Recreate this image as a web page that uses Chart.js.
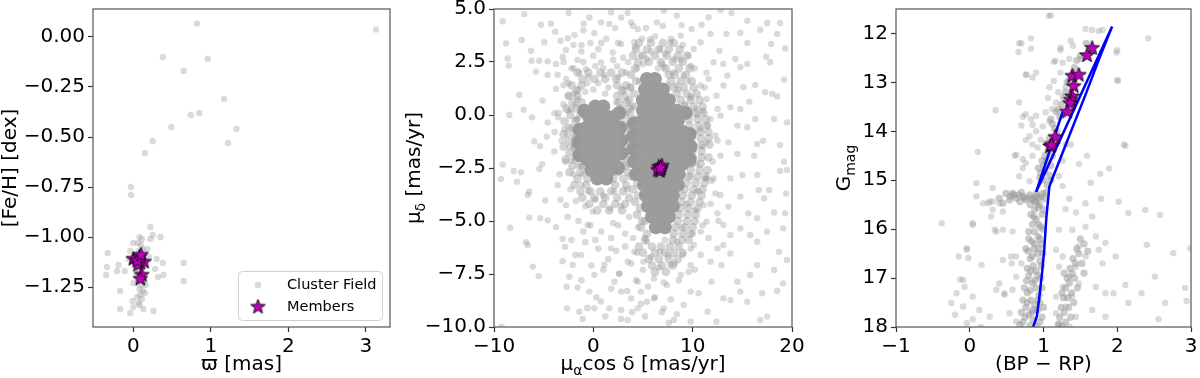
<!DOCTYPE html>
<html>
<head>
<meta charset="utf-8">
<script src="https://cdn.jsdelivr.net/npm/chart.js@4"></script>
<style>
  body { margin: 0; background: #fff; width: 1200px; height: 378px; overflow: hidden; position: relative; }
  canvas { position: absolute; top: 0; }
</style>
</head>
<body>
<canvas id="FehCanvas" width="420" height="378" style="left:0px"></canvas>
<canvas id="PmCanvas" width="420" height="378" style="left:400px"></canvas>
<canvas id="CmdCanvas" width="400" height="378" style="left:800px"></canvas>
<script>
// ---- panel 1: parallax vs [Fe/H] ----
const fehTicksX = [0, 1, 2, 3];
const fehTicksY = [0, -0.25, -0.5, -0.75, -1.0, -1.25];
const fehField = [
  [0.82,0.067],[0.38,-0.10],[0.96,-0.11],[0.65,-0.17],[1.17,-0.31],[0.74,-0.39],[0.85,-0.38],[0.49,-0.45],
  [1.33,-0.46],[1.22,-0.53],[0.25,-0.52],[0.15,-0.58],[-0.03,-0.75],[-0.03,-0.79],[3.13,0.037],[0.22,-0.95],
  [0.25,-0.99],[0.22,-1.01],[0.35,-1.00],[-0.33,-1.08],[-0.34,-1.15],[-0.35,-1.19],[-0.19,-1.14],[-0.21,-1.17],
  [-0.11,-1.17],[-0.17,-1.27],[-0.17,-1.36],[-0.04,-1.38],[0.0,-1.35],[0.13,-1.36],[0.26,-1.37],[0.15,-1.28],
  [0.16,-1.24],[0.28,-1.16],[0.32,-1.20],[0.39,-1.19],[0.38,-1.13],[0.30,-1.11],[0.65,-1.13],[0.65,-1.22],
  [0.0,-1.23],[-0.01,-1.32],[0.07,-1.33],[0.0,-1.03],[0.2,-1.10],[0.18,-1.06],[0.08,-1.00],[0.11,-1.01],
  [0.06,-1.03],[0.10,-1.04],[0.12,-1.06],[0.07,-1.07],[0.10,-1.09],[0.05,-1.12],[0.13,-1.15],[0.08,-1.17],
  [0.11,-1.20],[0.06,-1.22],[0.10,-1.24],[0.08,-1.26],[0.12,-1.27],[0.09,-1.29],[0.05,-1.30],[0.11,-1.31],
  [0.08,-1.34],[0.04,-1.18],[0.14,-1.22],[-0.06,-1.11],[-0.04,-1.07]
];
const fehMembers = [[0.00,-1.11],[0.08,-1.10],[0.09,-1.13],[0.14,-1.125],[0.06,-1.14],[0.11,-1.19],[0.09,-1.21],[0.05,-1.12],[0.10,-1.09]];

// ---- panel 2: proper motions ----
const pmTicksX = [-10, 0, 10, 20];
const pmTicksY = [5, 2.5, 0, -2.5, -5, -7.5, -10];
const pmCore = [
  [0.2,0.4],[1.0,0.4],[-0.4,-0.1],[0.5,-0.1],[1.4,-0.1],[2.0,-0.1],[-0.7,-0.6],[0.2,-0.6],[1.1,-0.6],[2.0,-0.6],
  [-0.8,-1.1],[0.1,-1.1],[1.0,-1.1],[1.9,-1.1],[-0.8,-1.6],[0.1,-1.6],[1.0,-1.6],[1.9,-1.6],
  [-0.6,-2.1],[0.3,-2.1],[1.2,-2.1],[2.0,-2.1],[-0.2,-2.6],[0.7,-2.6],[1.6,-2.6],[0.4,-3.0],[1.3,-3.0],
  [-1.4,-0.7],[-1.5,-1.3],[-1.4,-1.9],[2.7,-0.6],[2.8,-1.2],[2.8,-1.8],[2.5,-2.5],[-0.9,0.2],[2.6,0.1],
  [5.4,1.7],[6.2,1.7],[5.2,1.2],[6.1,1.2],[7.0,1.2],[5.0,0.7],[5.9,0.7],[6.8,0.7],[7.6,0.7],
  [5.0,0.2],[5.9,0.2],[6.8,0.2],[7.7,0.2],[8.4,0.2],[4.9,-0.3],[5.8,-0.3],[6.7,-0.3],[7.6,-0.3],[8.5,-0.3],
  [4.9,-0.8],[5.8,-0.8],[6.7,-0.8],[7.6,-0.8],[8.5,-0.8],[9.0,-0.8],[4.9,-1.3],[5.8,-1.3],[6.7,-1.3],[7.6,-1.3],[8.5,-1.3],[9.0,-1.3],
  [4.9,-1.8],[5.8,-1.8],[6.7,-1.8],[7.6,-1.8],[8.5,-1.8],[9.0,-1.8],[4.9,-2.3],[5.8,-2.3],[6.7,-2.3],[7.6,-2.3],[8.5,-2.3],[9.0,-2.3],
  [5.0,-2.8],[5.9,-2.8],[6.8,-2.8],[7.7,-2.8],[8.6,-2.8],[5.1,-3.3],[6.0,-3.3],[6.9,-3.3],[7.8,-3.3],[8.5,-3.3],
  [5.3,-3.8],[6.2,-3.8],[7.1,-3.8],[8.0,-3.8],[5.5,-4.3],[6.4,-4.3],[7.3,-4.3],[8.0,-4.3],[5.9,-4.8],[6.8,-4.8],[7.6,-4.8],
  [6.3,-5.3],[7.2,-5.3],[4.1,-0.4],[4.0,-1.0],[4.0,-1.6],[4.1,-2.2],[4.3,-2.8],[9.7,-0.9],[9.8,-1.5],[9.7,-2.1],[9.3,0.1]
];
const pmRing = [
  [-1.6,2.0],[-0.5,2.0],[0.7,2.0],[1.8,2.0],[2.9,2.0],[-2.2,1.4],[-1.2,1.4],[2.4,1.4],[3.3,1.4],
  [-2.5,0.9],[-1.6,0.9],[2.4,0.9],[3.2,0.9],[-2.7,0.3],[-1.7,0.3],[2.8,0.3],[3.6,0.3],
  [-2.9,-0.3],[-1.8,-0.3],[2.8,-0.3],[3.7,-0.3],[-3.0,-0.9],[-1.9,-0.9],[2.9,-0.9],[3.8,-0.9],
  [-3.0,-1.5],[-1.9,-1.5],[2.9,-1.5],[3.9,-1.5],[-2.8,-2.1],[-1.8,-2.1],[2.9,-2.1],[3.9,-2.1],
  [-2.4,-2.7],[-1.3,-2.7],[2.4,-2.7],[3.5,-2.7],[-1.9,-3.3],[-0.7,-3.3],[2.2,-3.3],[3.3,-3.3],
  [-1.1,-3.9],[0.1,-3.9],[1.2,-3.9],[2.4,-3.9],[3.6,-3.9],[0.4,-4.5],[1.6,-4.5],[2.9,-4.5],
  [4.6,3.4],[5.8,3.4],[7.0,3.4],[8.1,3.4],[4.0,2.8],[5.0,2.8],[6.2,2.8],[7.4,2.8],[8.5,2.8],[9.4,2.8],
  [4.2,2.2],[7.3,2.2],[8.6,2.2],[9.7,2.2],[4.3,1.6],[7.8,1.6],[8.8,1.6],[9.9,1.6],
  [4.1,1.0],[8.4,1.0],[9.4,1.0],[10.4,1.0],[4.2,0.4],[9.2,0.4],[10.1,0.4],[11.0,0.4],
  [4.2,-0.2],[9.6,-0.2],[10.5,-0.2],[11.3,-0.2],[4.1,-0.8],[9.9,-0.8],[10.8,-0.8],[11.6,-0.8],
  [4.2,-1.4],[10.0,-1.4],[10.9,-1.4],[11.7,-1.4],[4.1,-2.0],[10.0,-2.0],[10.9,-2.0],[11.6,-2.0],
  [4.3,-2.6],[9.8,-2.6],[10.7,-2.6],[11.5,-2.6],[4.4,-3.2],[9.4,-3.2],[10.3,-3.2],[11.2,-3.2],
  [4.5,-3.8],[9.0,-3.8],[9.9,-3.8],[10.9,-3.8],[4.7,-4.4],[8.8,-4.4],[9.6,-4.4],[10.5,-4.4],
  [4.9,-5.0],[5.2,-5.0],[8.5,-5.0],[9.4,-5.0],[10.2,-5.0],[5.4,-5.6],[8.1,-5.6],[9.0,-5.6],[9.8,-5.6],
  [4.6,-6.2],[5.9,-6.2],[6.8,-6.2],[7.7,-6.2],[8.6,-6.2],[5.6,-6.8],[6.6,-6.8],[7.6,-6.8],[8.5,-6.8],
  [6.2,-7.4],[7.3,-7.4],
  [-1.1,1.7],[0.1,1.7],[1.2,1.7],[2.3,1.7],[-1.7,1.15],[2.9,1.15],[-2.1,0.6],[-1.2,0.6],[2.6,0.6],[3.4,0.6],
  [-2.3,0.0],[-1.3,0.0],[3.2,0.0],[-2.4,-0.6],[-1.4,-0.6],[3.3,-0.6],[-2.5,-1.2],[-1.4,-1.2],[3.4,-1.2],
  [-2.4,-1.8],[-1.3,-1.8],[3.4,-1.8],[-2.1,-2.4],[-1.0,-2.4],[3.2,-2.4],[-1.6,-3.0],[-0.6,-3.0],[2.0,-3.0],[3.0,-3.0],
  [-1.3,-3.6],[-0.3,-3.6],[0.7,-3.6],[1.8,-3.6],[3.0,-3.6],[-0.4,-4.2],[1.0,-4.2],[2.2,-4.2],[3.2,-4.2],
  [4.3,3.1],[5.4,3.1],[6.6,3.1],[7.6,3.1],[8.7,3.1],[4.5,2.5],[5.6,2.5],[6.8,2.5],[8.0,2.5],[9.0,2.5],
  [3.8,1.9],[7.6,1.9],[8.2,1.9],[9.3,1.9],[3.7,1.3],[8.1,1.3],[9.1,1.3],[10.1,1.3],[3.6,0.7],[8.8,0.7],[9.8,0.7],[10.7,0.7],
  [3.7,0.1],[9.4,0.1],[10.3,0.1],[11.1,0.1],[3.6,-0.5],[9.7,-0.5],[10.6,-0.5],[11.4,-0.5],[3.6,-1.1],[9.9,-1.1],[10.8,-1.1],[11.6,-1.1],
  [3.6,-1.7],[10.0,-1.7],[10.9,-1.7],[3.6,-2.3],[9.9,-2.3],[10.8,-2.3],[3.8,-2.9],[9.6,-2.9],[10.5,-2.9],[11.3,-2.9],
  [4.0,-3.5],[9.2,-3.5],[10.1,-3.5],[11.0,-3.5],[4.2,-4.1],[8.9,-4.1],[9.8,-4.1],[10.7,-4.1],[4.4,-4.7],[8.6,-4.7],[9.5,-4.7],[10.3,-4.7],
  [4.8,-5.3],[8.3,-5.3],[9.2,-5.3],[10.0,-5.3],[5.2,-5.9],[8.0,-5.9],[8.9,-5.9],[9.6,-5.9],[5.0,-6.5],[6.2,-6.5],[7.2,-6.5],[8.1,-6.5],[9.0,-6.5],
  [5.9,-7.1],[6.9,-7.1],[8.0,-7.1]
];
const pmHalo = [
  [-2.5,1.5],[-2,2.2],[-1.5,1.2],[-1,2.5],[-0.5,1.8],[0,2.8],[0.5,1.5],[1,2.2],[1.5,1.3],[2,2.6],[2.5,1.8],[3,1.2],
  [-3,0.5],[-2.5,0.2],[-2.2,-0.6],[-3.2,-1.2],[-2.4,-1.5],[-2.8,-2.2],[-2,-2.8],[-1.5,-2.4],[-1.2,-3.3],[-0.5,-3.6],
  [0.2,-4],[1,-3.8],[-2,1],[-1.8,0.5],[-1.6,-0.2],[-1.9,-1.1],[-1.7,-1.9],[-1.1,-2.8],[0,1.2],[1.2,1],[2.3,0.6],
  [2.8,0.2],[-0.8,1.1],[-2.6,-0.9],[-3.5,0.1],[-3,2.5],[-1.2,3.3],[0.8,3.4],[-2.3,-3.5],[-0.8,-4.3],[2.1,-3.6],[1.7,-4.4],
  [3.5,2.5],[4.2,3.2],[5,2.4],[5.8,3],[6.5,2.2],[7.2,2.9],[8,2],[8.8,2.6],[9.5,1.6],[10.2,2.2],[4.6,1.6],[7.5,1.4],
  [8.6,1.2],[9.8,0.8],[10.5,0],[3.8,1.3],[6.2,3.7],[7.8,3.6],[9,3.3],[5.3,4.1],[4,4.2],
  [10.2,-0.8],[11,-1.5],[10.4,-2.3],[11.3,-3],[10.6,-3.6],[11.8,-4.2],[10.3,-4.5],[11,-5.2],[10,-5.6],[12,-2.2],
  [12.3,-3.7],[11.5,-0.5],[12.5,-1.2],[9.8,-6.3],[10.8,-6.6],
  [9,-6.6],[8.2,-7],[7.5,-6.6],[6.6,-7.2],[5.8,-6.7],[5,-7.3],[4.4,-6.5],[3.8,-7],[8.6,-7.8],[7.1,-7.9],[5.5,-8.1],
  [4.3,-7.8],[3.2,-6.2],[9.6,-7.4],[6.2,-8.6],[7.8,-8.7],[4.8,-8.9],[3.4,-8.3],[6.9,-9.3],[5.2,-9.5],[8.4,-9.4],[2.6,-7.5],
  [3,-0.5],[3.2,-2],[3.4,-3.5],[2.8,-4.3],[3.6,-4.8],[2.5,-5.2],[3.2,-5.6],[4,-5.8],[4.5,-5.3],[1.8,-5.8],[2.3,-6.4],
  [1.5,-6.8],[0.8,-5.5],[0.5,-6.3],[-0.3,-5.2],[-0.8,-6],[1,-7.3],[-0.2,-7.1],[1.8,-8.2],[0.3,-8.6],[-1.2,-7.8],
  [2.8,-9.2],[1.2,-9.5],[-0.6,-9.1],[-1.8,-6.6],[-1.5,-5],[-2.6,-4.8],[-2.2,-5.9],[-3.1,-6.9],[-2.7,-8.1],
  [9.6,-1.0],[9.8,-2.9],[9.4,-4.2],[8.9,-5.3],[7.2,-5.9],[5.2,-5.8],[3.9,0.4],[9.2,0.5],[6.9,2.4],[4.4,2.2],
  [-3.4,-2.8],[-3.9,-0.8],[-3.6,1.9],[-1.0,4.0],[2.5,3.4],[4.9,3.6],[7.0,4.2],[9.6,2.8],[11.2,1.3],[11.9,-3.1],
  [11.6,-5.8],[10.2,-7.3],[7.6,-9.8],[3.9,-9.3],[0.2,-5.9],[-1.0,-5.5],[2.0,-5.1],[-3.3,-4.0],[12.6,-5.0],[11.0,0.2]
];
const pmField = [
  [-6.95,4.76],[-9.13,4.42],[-5.27,4.26],[-4.26,4.31],[-3.83,3.93],[-8.79,3.38],[-7.22,3.54],[-4.94,3.43],[-6.28,3.03],
  [-8.63,2.67],[-8.53,2.33],[-6.21,2.56],[-5.45,2.56],[-4.6,2.53],[-5.78,2.04],[-4.6,1.89],[-2.58,3.62],[-2.5,4.81],
  [-0.98,4.31],[0.1,3.87],[-1.91,3.77],[-2.75,3.07],[-3.09,2.75],[-3.76,2.41],[-2.75,1.7],[-3.76,1.23],[-7.46,0.94],
  [-5.11,0.68],[-7.02,0.25],[-8.46,0.0],[-6.17,-0.11],[-3.93,0.09],[-3.53,-0.11],[-4.6,-0.35],[-4.69,-1.02],[-5.94,-1.24],
  [-5.37,-1.47],[-3.93,-1.72],[-9.13,-2.34],[-5.17,-2.32],[-2.92,-0.66],[-1.75,-0.19],[-2.25,0.28],[-1.58,0.75],[-1.41,2.01],
  [-0.74,2.17],[0.77,2.48],[1.95,2.95],[2.79,3.35],[0.77,4.37],[1.78,4.84],[3.46,4.81],[3.8,4.37],[4.47,4.05],[4.13,3.43],
  [4.8,2.8],[-1.91,-1.6],[-2.25,-2.15],[-1.24,-2.39],
  [-1.2,3.0],[-0.3,3.4],[0.5,3.1],[1.3,3.6],[2.2,4.1],[-1.6,2.6],[0.2,2.3],[1.1,1.9],[2.4,2.3],[3.3,2.0],[-2.2,2.2],
  [-0.6,1.5],[3.0,2.7],[-2.0,3.3],[1.6,4.3],[-0.4,4.6],[2.8,4.6],[-3.3,3.5],[-3.0,1.4],[-2.5,0.9],
  [-9.3,-3.02],[-8.02,-2.64],[-7.28,-2.7],[-7.69,-3.15],[-5.44,-2.55],[-6.61,-3.77],[-6.45,-3.62],[-4.83,-4.03],[-6.45,-4.84],
  [-5.34,-4.87],[-4.6,-4.97],[-3.76,-5.29],[-8.36,-5.32],[-6.78,-6.0],[-6.61,-6.13],[-6.1,-7.15],[-5.5,-7.6],[-3.09,-5.85],
  [-2.85,-6.21],[-2.08,-7.07],[-2.42,-7.63],[-1.58,-8.14],[-2.65,-9.12],[-1.41,-9.28],[-1.07,-9.62],[-9.23,-9.98],[-3.59,-3.3],
  [-2.75,-4.25],[-1.75,-4.06],[-0.07,-4.56],[-0.57,-5.19],[-1.24,-6.6],[0.1,-7.54],[-0.4,-8.33],[0.77,-8.8],[0.1,-9.12],
  [1.61,-9.12],[2.79,-9.62],[3.46,-9.67],[2.79,-8.33],[3.8,-8.65],[4.47,-7.86],[2.12,-7.86],[2.62,-7.47],[1.11,-7.07],
  [1.78,-6.29],[3.46,-6.92],[4.13,-6.45],[4.8,-8.33],[4.47,-9.12],
  [19.5,-2.59],[18.8,-2.64],[16.5,-2.83],[15.0,-2.83],[13.8,-2.99],[16.65,-3.54],[17.7,-3.54],[19.4,-3.7],[17.2,-3.93],
  [14.8,-3.85],[13.6,-4.32],[15.6,-4.64],[19.3,-4.64],[18.2,-4.6],[16.5,-4.87],[17.5,-5.5],[19.1,-5.35],[14.8,-5.35],
  [15.8,-5.66],[16.5,-5.98],[18.7,-6.45],[19.5,-6.84],[13.8,-6.53],[13.1,-6.13],[16.5,-7.08],[14.5,-7.86],[15.8,-7.55],
  [18.2,-7.31],[19.1,-7.94],[18.5,-8.3],[17.0,-8.41],[14.8,-8.33],[13.1,-8.65],[13.8,-8.73],[15.5,-8.81],[17.5,-9.51],
  [16.8,-9.67],[12.4,-9.75],[11.5,-9.28],[10.6,-8.41],[11.9,-7.86],[12.9,-7.08],[11.8,-6.92],[12.5,-6.29],[13.8,-5.66],
  [13.1,-5.19],[12.5,-4.64],[12.8,-3.77],[12.1,-2.99],[9.8,-9.75],[8.1,-9.67],[7.1,-9.12],[6.1,-8.65],[5.4,-8.81],
  [9.1,-8.96],[9.8,-8.33],[5.4,-5.98],[6.7,-6.45],[5.05,-6.92],[7.75,-7.08],[6.1,-7.71],[8.8,-7.55],[9.8,-7.08],
  [7.4,-8.02],[8.4,-5.98],[10.1,-6.13],[10.8,-5.5],[11.4,-5.03],[11.1,-4.25],[10.4,-3.62],[11.4,-2.99],
  [7.08,4.92],[12.8,4.95],[13.9,4.81],[15.5,4.45],[17.5,4.34],[18.8,4.34],[16.8,4.02],[18.5,3.82],[14.8,3.87],[13.4,3.82],
  [11.6,4.61],[10.9,4.26],[9.9,4.06],[8.9,4.24],[11.8,3.82],[10.8,3.43],[15.5,3.4],[17.9,3.35],[19.3,3.14],[12.7,3.03],
  [14.3,2.64],[15.5,2.41],[14.8,2.25],[17.4,2.75],[17.8,2.49],[12.1,2.49],[13.1,2.41],[11.6,1.7],[13.5,1.86],[15.1,1.31],
  [16.3,1.42],[17.3,1.07],[18.5,0.88],[19.2,1.66],[18.0,1.0],[15.7,0.63],[14.8,0.28],[13.8,0.36],[16.3,-0.19],[18.2,-0.19],
  [19.5,-0.35],[13.1,1.39],[12.4,0.91],[12.8,-0.03],[14.5,-0.5],[15.5,-0.58],[17.1,-1.21],[18.8,-1.42],[16.5,-1.37],
  [14.5,-1.84],[16.2,-1.92],[19.2,-2.2],[13.6,-1.29],[12.8,-1.92],[12.3,-0.97],[8.8,3.74],[7.75,3.43],[10.1,3.11],
  [8.1,2.64],[9.8,2.33],[11.4,2.0],[9.1,1.86],[10.8,1.39],[9.8,0.91],[11.4,0.75],[10.4,0.28],[11.8,-0.19],[10.8,-0.66],
  [11.4,-1.29],[12.5,0.28],[6.7,3.11],[5.7,3.58],[6.4,4.37],[8.4,4.69],[5.4,2.64],[7.1,2.25],[8.4,1.39]
];
const pmMembers = [[6.6,-2.45],[6.8,-2.55],[6.7,-2.65],[6.9,-2.4],[6.5,-2.6],[6.75,-2.5]];

// ---- panel 3: colour-magnitude diagram ----
const cmdTicksX = [-1, 0, 1, 2, 3];
const cmdTicksY = [12, 13, 14, 15, 16, 17, 18];
const cmdCore = [
  [0.95,15.5],[0.88,15.6],[0.98,15.7],[0.9,15.8],[0.85,15.9],[0.96,15.95],[0.88,16.05],[0.93,16.15],[0.84,16.25],
  [0.97,16.3],[0.87,16.4],[0.92,16.5],[0.82,16.6],[0.95,16.65],[0.86,16.75],[0.9,16.85],[0.8,16.95],[0.96,17.0],
  [0.85,17.1],[0.9,17.2],[0.78,17.3],[0.94,17.35],[0.83,17.45],[0.88,17.55],[0.76,17.6],[0.92,17.65],[0.8,17.75],
  [0.86,17.85],[0.72,17.9],[0.95,17.9],[0.82,17.97],[0.9,17.98],[0.78,17.5],[0.98,17.2],[0.99,16.0],[0.8,16.2],
  [0.78,16.8],[0.99,16.5],[0.74,17.2],[0.7,17.7],[1.0,17.6],[0.76,16.4],[0.93,15.55],[0.83,15.7],
  [0.82,15.5],[0.9,15.45],[1.0,15.6],[0.87,15.75],[0.93,15.9],[0.8,16.05],[0.95,16.2],[0.88,16.3],[0.79,16.45],
  [0.94,16.4],[0.85,16.55],[0.97,16.75],[0.83,16.85],[0.92,16.95],[0.77,17.05],[0.88,17.05],[0.82,17.25],[0.95,17.5],
  [0.86,17.65],[0.75,17.8],[0.84,17.7],[0.68,17.95],[0.98,17.8],[0.92,17.45],[0.72,17.45],
  [0.58,15.27],[0.54,15.40],[0.63,15.37],[0.72,15.33],[0.81,15.3],[0.90,15.33],[0.99,15.27],[0.76,15.4],[0.85,15.39],
  [0.94,15.37],[0.68,15.44],[0.40,15.37],[0.49,15.27],[0.45,15.47],[1.04,15.25],[0.6,15.3],[0.88,15.42],
  [0.66,15.3],[0.74,15.36],[0.82,15.36],[0.9,15.28],[0.97,15.33],[0.55,15.33],[0.7,15.25],[1.02,15.38],
  [1.05,15.1],[1.0,15.0],[1.08,14.9],[1.02,14.8],[1.1,14.7],[1.04,14.6],[1.12,14.5],[1.06,14.4],[1.0,14.7],[1.1,15.0],
  [0.96,14.85],[1.14,14.3],[1.08,14.15],[1.18,14.0],[1.12,13.85],[1.22,13.7],[1.25,13.45],[1.3,13.2],[1.35,12.95],
  [1.42,12.7],[1.5,12.45],[1.58,12.2],[1.02,14.5],[0.98,14.6],[1.06,14.25],[1.15,13.95],[1.2,13.55],[1.27,13.3],
  [1.32,13.0],[1.4,12.8],[1.45,12.55],[1.1,13.75],[1.17,13.6],[0.95,14.95],[0.93,14.75],
  [1.45,16.4],[1.4,16.6],[1.36,16.8],[1.32,17.0],[1.3,17.2],[1.27,17.4],[1.24,17.6],[1.22,17.8],[1.2,17.95],
  [1.5,16.2],[1.42,17.0],[1.38,17.3],[1.34,17.6],[1.3,17.9],[1.55,16.3],[1.48,16.5],[1.43,16.7],[1.39,16.9],
  [1.35,17.1],[1.33,17.4],[1.28,17.7],[1.25,17.98],[1.46,17.2],[1.41,17.5],[1.37,17.8],[1.52,16.7],[1.25,17.3],
  [1.28,16.9],[1.6,16.45],[1.55,16.9]
];
const cmdField = [
  [1.10,11.63],[0.67,12.20],[0.83,12.31],[0.76,12.85],[1.14,12.58],[1.23,12.34],[1.66,11.93],[1.80,11.93],[2.0,12.34],
  [2.42,12.10],[2.0,12.95],[0.35,13.57],[0.85,13.87],[0.72,13.70],[0.11,14.42],[0.63,14.48],[0.76,14.18],[2.11,14.30],
  [1.89,14.76],[1.77,14.87],[0.09,15.33],[-0.38,15.88],[0.04,15.88],[0.36,16.05],[2.02,15.44],[2.15,15.67],[2.38,15.61],
  [2.58,15.71],[2.40,16.32],[2.76,16.49],[2.99,16.39],[1.98,16.56],[2.51,16.97],[2.92,17.20],[2.94,17.47],[2.65,17.51],
  [2.33,17.31],[2.11,17.14],[1.95,17.31],[2.56,17.84],[2.15,17.51],[-0.04,16.39],[-0.15,16.56],[-0.13,17.03],[-0.18,17.31],
  [-0.20,17.75],[-0.25,17.51],[0.04,17.84],[0.15,18.0],[0.47,17.34],[0.36,17.24],[0.63,16.56],[0.57,16.7],[0.40,15.47],
  [0.27,15.43],
  [1.07,11.64],[1.57,11.91],[1.75,11.95],[0.70,12.2],[0.83,12.1],[0.66,12.38],[1.23,12.29],[1.40,12.25],[1.35,12.52],
  [1.26,12.6],[1.16,12.56],[0.90,12.8],[0.77,12.84],[0.85,12.9],[1.23,12.8],[1.14,12.97],[1.30,13.1],[1.08,13.1],
  [1.2,13.2],[0.67,13.41],[1.06,13.32],[1.17,13.41],[0.76,13.65],[0.83,13.75],[0.90,13.68],[1.03,13.61],[1.12,13.54],
  [0.70,13.88],[0.99,13.9],[1.08,13.8],[0.90,14.0],[0.81,14.1],[0.96,14.17],[0.85,14.27],[1.03,14.24],[0.92,14.33],
  [0.61,14.5],[0.72,14.57],[0.85,14.5],[1.30,14.27],[1.37,14.27],[1.26,14.6],[1.48,14.67],[1.59,14.5],[1.99,12.39],
  [2.01,12.97],[2.09,14.27],[1.37,12.15],[1.50,12.52],[1.59,12.45],
  [0.31,15.16],[0.18,15.47],[0.25,15.47],[0.31,15.44],[0.29,15.74],[0.31,15.6],[0.45,15.64],[0.34,16.01],[0.58,16.05],
  [0.45,16.01],[0.04,15.91],[-0.04,16.42],[-0.02,16.59],[0.16,16.73],[0.45,16.63],[0.56,16.56],[0.70,16.7],[0.63,16.97],
  [0.40,17.11],[0.47,17.31],[0.58,17.24],[-0.09,17.04],[-0.07,17.18],[0.04,17.38],[-0.09,17.58],[0.13,17.65],[0.27,17.79],
  [0.54,17.72],[0.63,17.89],[-0.04,17.92],[0.09,15.06],[0.72,14.75],[0.76,14.65],[0.67,14.92],[0.81,15.02],[1.21,14.92],
  [1.26,15.12],[1.35,15.38],[1.30,15.59],[1.44,15.66],[1.57,15.47],[1.66,15.74],[1.78,15.38],[1.64,15.05],[1.21,16.01],
  [1.39,16.01],[1.57,15.95],[1.71,16.15],[1.84,16.28],[1.75,16.42],[1.48,16.35],[1.17,16.42],[1.26,16.56],[1.57,16.56],
  [1.80,16.7],[1.21,16.77],[1.44,16.77],[1.35,16.97],[1.48,17.11],[1.71,17.18],[1.84,17.31],[1.26,17.18],[1.17,17.38],
  [1.39,17.38],[1.30,17.58],[1.17,17.72],[1.44,17.79],[1.21,17.92],[1.35,17.99],[1.66,17.65],[1.84,17.79]
];
const cmdMembers = [[1.66,12.30],[1.59,12.45],[1.39,12.87],[1.48,12.85],[1.41,13.08],[1.39,13.29],[1.37,13.36],[1.36,13.43],[1.32,13.6],[1.16,14.12],[1.09,14.31],[1.11,14.28]];
const isoColor = [0.86, 0.91, 0.94, 0.98, 1.01, 1.04, 1.08, 1.12, 1.36, 1.57, 1.76, 1.93, 0.90, 1.26];
const isoGmag  = [18.0, 17.78, 17.44, 16.9, 16.42, 15.74, 15.13, 14.97, 14.05, 13.25, 12.5, 11.86, 15.24, 13.6];

const FONT = '"DejaVu Sans", sans-serif';
const FIELD = 'rgba(150,150,150,0.35)';
const MAGENTA = '#bf00bf';
const minus = s => s.replace('-', '\u2212');
const xy = arr => arr.map(p => ({ x: p[0], y: p[1] }));

Chart.defaults.font.family = FONT;
Chart.defaults.font.size = 20;

function starImage(size) {
    const c = document.createElement('canvas');
    c.width = c.height = size;
    const g = c.getContext('2d');
    const m = size / 2, R = size / 2 - 0.8, r = R * 0.42;
    g.beginPath();
    for (let i = 0; i < 10; i++) {
        const a = -Math.PI / 2 + i * Math.PI / 5, rr = i % 2 ? r : R;
        g.lineTo(m + rr * Math.cos(a), m + rr * Math.sin(a));
    }
    g.closePath();
    g.fillStyle = MAGENTA; g.fill();
    g.lineWidth = 0.9; g.strokeStyle = '#000'; g.stroke();
    return c;
}
const STAR = starImage(17);

function drawText(ctx, parts, cx, cy, rot, size) {
    ctx.save();
    ctx.translate(cx, cy); ctx.rotate(rot);
    ctx.textBaseline = 'middle'; ctx.fillStyle = '#000';
    let w = 0;
    parts.forEach(p => { ctx.font = (p.sub ? size * 0.7 : size) + 'px ' + FONT; p.w = ctx.measureText(p.t).width; w += p.w; });
    let x = -w / 2;
    parts.forEach(p => {
        ctx.font = (p.sub ? size * 0.7 : size) + 'px ' + FONT;
        ctx.fillText(p.t, x, p.sub ? size * 0.3 : 0);
        x += p.w;
    });
    ctx.restore();
}

const framePlugin = {
    id: 'frame',
    afterDraw(chart, args, o) {
        const { ctx, chartArea: a } = chart;
        ctx.save();
        ctx.strokeStyle = '#555'; ctx.lineWidth = 1.2;
        ctx.strokeRect(a.left, a.top, a.right - a.left, a.bottom - a.top);
        drawText(ctx, o.xTitle, (a.left + a.right) / 2, 365, 0, 20);
        drawText(ctx, o.yTitle, o.yTitleX, (a.top + a.bottom) / 2, -Math.PI / 2, 20);
        if (o.legend) {
            ctx.fillStyle = 'rgba(255,255,255,0.8)'; ctx.strokeStyle = '#d0d0d0'; ctx.lineWidth = 1;
            ctx.beginPath(); ctx.roundRect(238.5, 271.5, 144, 49, 4); ctx.fill(); ctx.stroke();
            ctx.fillStyle = FIELD; ctx.beginPath(); ctx.arc(258, 285, 3.2, 0, Math.PI * 2); ctx.fill();
            ctx.drawImage(STAR, 258 - 8.5, 307 - 8.5);
            ctx.fillStyle = '#000'; ctx.font = '14.5px ' + FONT; ctx.textBaseline = 'middle';
            ctx.fillText('Cluster Field', 287, 285);
            ctx.fillText('Members', 287, 307);
        }
        ctx.restore();
    }
};

function axis(min, max, ticks, fmt, dir, size, reverse) {
    return {
        type: 'linear', min: min, max: max, reverse: !!reverse,
        border: { display: false },
        grid: { drawOnChartArea: false, drawTicks: true, tickLength: 5, tickColor: '#333', tickWidth: 1.2 },
        ticks: { color: '#000', font: { family: FONT, size: 20 }, padding: 3, autoSkip: false, maxRotation: 0, callback: fmt },
        afterBuildTicks: s => { s.ticks = ticks.map(v => ({ value: v })); },
        afterFit: s => {
            if (dir === 'y') s.width = size; else s.height = size;
            s.paddingTop = s.paddingBottom = s.paddingLeft = s.paddingRight = 0;
        }
    };
}

function points(arr, color, r) {
    return { data: xy(arr), pointRadius: r, pointHoverRadius: r, backgroundColor: color, pointBackgroundColor: color,
             borderWidth: 0, pointBorderWidth: 0, showLine: false, clip: 0 };
}
function members(arr) {
    return { data: xy(arr), pointStyle: STAR, pointRadius: 8, showLine: false, clip: 0 };
}

function panel(id, datasets, scales, rightPad, frame) {
    return new Chart(document.getElementById(id), {
        type: 'scatter',
        data: { datasets: datasets },
        options: {
            responsive: false, animation: false,
            layout: { padding: { top: 9, right: rightPad, left: 0, bottom: 0 } },
            scales: scales,
            plugins: { legend: { display: false }, tooltip: { enabled: false }, frame: frame }
        },
        plugins: [framePlugin]
    });
}

panel('FehCanvas',
    [members(fehMembers), points(fehField, FIELD, 3.2)],
    {
        x: axis(-0.52, 3.31, fehTicksX, v => minus(String(v)), 'x', 51),
        y: axis(-1.45, 0.14, fehTicksY, v => minus(v.toFixed(2)), 'y', 93)
    }, 30,
    { xTitle: [{ t: '\u03d6 [mas]' }], yTitle: [{ t: '[Fe/H] [dex]' }], yTitleX: 11, legend: true });

panel('PmCanvas',
    [members(pmMembers), points(pmField, FIELD, 3.2), points(pmHalo, FIELD, 3.3),
     points(pmRing, 'rgba(150,150,150,0.42)', 4.3), points(pmCore, 'rgb(156,156,156)', 7)],
    {
        x: axis(-10, 20, pmTicksX, v => minus(String(v)), 'x', 51),
        y: axis(-10, 5, pmTicksY, v => minus(v.toFixed(1)), 'y', 94)
    }, 28,
    { xTitle: [{ t: '\u03bc' }, { t: '\u03b1', sub: true }, { t: 'cos \u03b4 [mas/yr]' }],
      yTitle: [{ t: '\u03bc' }, { t: '\u03b4', sub: true }, { t: ' [mas/yr]' }], yTitleX: 15 });

panel('CmdCanvas',
    [members(cmdMembers),
     { data: isoColor.map((c, i) => ({ x: c, y: isoGmag[i] })), showLine: true, borderColor: '#0000ff', borderWidth: 2.5,
       pointRadius: 0, fill: false, tension: 0, clip: 0 },
     points(cmdField, FIELD, 3.2), points(cmdCore, 'rgba(150,150,150,0.5)', 3.6)],
    {
        x: axis(-1, 3, cmdTicksX, v => minus(String(v)), 'x', 51),
        y: axis(11.5, 18, cmdTicksY, v => String(v), 'y', 96, true)
    }, 7,
    { xTitle: [{ t: '(BP \u2212 RP)' }], yTitle: [{ t: 'G' }, { t: 'mag', sub: true }], yTitleX: 45 });
</script>
</body>
</html>
